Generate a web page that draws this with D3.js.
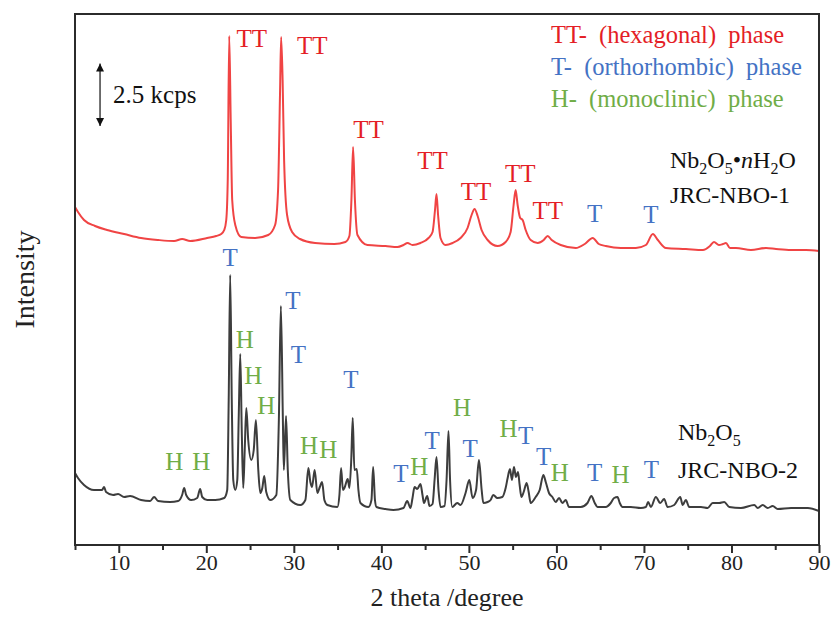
<!DOCTYPE html>
<html>
<head>
<meta charset="utf-8">
<script src="https://cdn.jsdelivr.net/npm/d3@7"></script>
<style>
  html, body { margin: 0; padding: 0; background: #fff; }
  svg text { font-family: "Liberation Serif", "Times New Roman", serif; }
</style>
</head>
<body>
<svg id="chart" width="834" height="630"></svg>
<script>
// ---------- DATA ----------
// Nb2O5·nH2O (JRC-NBO-1), offset trace: [2theta (deg), intensity (kcps, as plotted)]
const redTrace = [
  [5.00,13.52],[5.34,13.32],[6.03,13.00],[7.29,12.76],[8.66,12.60],[10.61,12.44],[12.55,12.28],
  [14.50,12.20],[16.33,12.16],[17.24,12.24],[18.16,12.16],[20.10,12.28],[21.13,12.36],[21.70,12.44],
  [22.05,12.60],[22.28,13.00],[22.45,14.60],[22.62,20.36],[22.79,17.00],[22.96,13.80],[23.31,12.80],
  [23.99,12.32],[25.59,12.28],[27.08,12.40],[27.86,12.80],[28.20,14.20],[28.43,18.20],[28.55,20.32],
  [28.72,18.60],[28.89,15.40],[29.23,13.20],[29.80,12.52],[30.71,12.24],[32.43,12.08],[34.63,12.04],
  [35.89,12.12],[36.35,12.36],[36.58,13.80],[36.77,15.92],[36.98,13.80],[37.27,12.40],[38.41,12.00],
  [40.47,11.96],[41.84,11.92],[42.53,12.00],[42.99,12.08],[43.56,12.00],[44.47,12.08],[45.39,12.28],
  [45.85,12.52],[46.13,13.40],[46.30,14.04],[46.48,13.20],[46.76,12.28],[47.33,12.00],[48.14,12.08],
  [49.05,12.28],[49.85,12.68],[50.31,13.20],[50.65,13.44],[51.00,13.16],[51.45,12.60],[52.14,12.20],
  [53.28,11.96],[54.20,12.12],[54.77,12.52],[55.11,13.60],[55.34,14.20],[55.57,13.60],[55.86,13.08],
  [56.14,13.00],[56.49,12.60],[57.06,12.20],[57.86,12.08],[58.55,12.20],[59.00,12.36],[59.46,12.20],
  [60.49,12.00],[62.21,11.88],[63.24,12.04],[64.15,12.28],[64.84,12.04],[65.64,11.96],[67.36,11.88],
  [69.07,11.88],[70.22,12.00],[71.02,12.44],[71.59,12.20],[72.51,11.88],[74.80,11.84],[76.74,11.80],
  [77.54,11.96],[78.00,12.12],[78.57,12.00],[79.03,12.04],[79.37,12.08],[79.83,11.88],[80.51,11.88],
  [82.23,11.80],[83.95,11.88],[85.09,11.84],[86.81,11.80],[88.53,11.80],[90.00,11.76]
];
// Nb2O5 (JRC-NBO-2)
const blackTrace = [
  [5.00,2.88],[5.34,2.68],[6.03,2.40],[7.17,2.20],[8.09,2.20],[8.32,2.32],[8.55,2.12],[9.35,2.00],
  [9.92,2.04],[10.61,1.92],[11.29,1.96],[12.55,1.80],[13.58,1.76],[14.04,1.92],[14.50,1.76],[15.87,1.72],
  [16.78,1.76],[17.24,2.00],[17.47,2.28],[17.70,2.00],[18.27,1.80],[18.96,1.88],[19.30,2.24],[19.53,1.92],
  [20.10,1.80],[21.02,1.80],[22.05,1.88],[22.39,2.20],[22.56,5.80],[22.73,10.80],[22.91,5.80],[23.08,2.60],
  [23.31,2.20],[23.54,2.60],[23.71,5.20],[23.88,7.64],[24.05,4.60],[24.22,2.28],[24.39,3.80],[24.57,5.48],
  [24.79,4.20],[25.14,3.40],[25.42,3.80],[25.67,5.00],[25.94,3.00],[26.17,2.08],[26.40,2.28],[26.62,2.76],
  [26.85,2.12],[27.31,1.80],[28.00,2.00],[28.29,5.00],[28.52,9.56],[28.75,5.00],[28.86,3.00],[29.11,5.16],
  [29.31,3.00],[29.60,1.80],[30.74,1.60],[31.32,1.80],[31.66,3.08],[31.89,2.52],[32.08,2.32],[32.38,3.00],
  [32.69,2.08],[32.97,2.32],[33.23,2.52],[33.49,1.80],[33.83,1.60],[34.98,1.52],[35.21,2.00],[35.40,3.08],
  [35.61,2.20],[35.78,2.28],[36.16,2.64],[36.35,2.28],[36.56,3.40],[36.73,5.08],[36.92,3.00],[37.19,3.04],
  [37.38,2.20],[37.61,1.68],[38.52,1.52],[38.87,1.80],[39.06,3.12],[39.27,1.80],[39.44,1.52],[40.47,1.44],
  [41.38,1.40],[42.53,1.48],[42.95,1.76],[43.33,1.48],[43.56,1.88],[43.79,2.32],[44.10,2.24],[44.47,2.44],
  [44.70,2.00],[44.87,1.68],[45.24,1.96],[45.50,1.56],[45.85,1.64],[46.08,2.60],[46.30,3.52],[46.53,2.20],
  [46.76,1.52],[47.22,1.56],[47.45,2.60],[47.67,4.56],[47.85,2.60],[48.10,1.52],[48.67,1.68],[49.05,1.60],
  [49.62,2.08],[50.05,2.60],[50.42,1.88],[50.82,2.20],[51.15,3.40],[51.46,2.20],[51.65,1.68],[52.14,1.72],
  [52.48,1.80],[52.79,2.00],[53.25,1.88],[53.82,1.92],[54.20,2.28],[54.43,2.68],[54.69,3.04],[54.92,2.60],
  [55.15,3.12],[55.38,2.72],[55.61,2.92],[55.80,2.40],[56.00,1.92],[56.26,2.12],[56.60,2.48],[56.83,2.12],
  [57.06,1.68],[57.63,1.92],[58.09,2.20],[58.51,2.80],[58.78,2.52],[59.15,2.08],[59.54,1.92],[59.92,1.72],
  [60.30,1.88],[60.69,1.68],[61.06,1.80],[61.44,1.52],[62.21,1.52],[62.78,1.52],[63.55,1.68],[64.00,1.96],
  [64.38,1.68],[64.69,1.52],[65.64,1.52],[66.21,1.68],[66.59,1.88],[66.98,1.92],[67.24,1.68],[67.55,1.52],
  [68.50,1.52],[69.64,1.48],[70.22,1.52],[70.48,1.72],[70.79,1.52],[71.36,1.92],[71.86,1.68],[72.31,1.84],
  [72.70,1.52],[73.46,1.60],[74.15,1.92],[74.42,1.60],[74.79,1.80],[75.17,1.52],[76.51,1.52],[77.28,1.48],
  [77.85,1.68],[78.60,1.68],[79.17,1.72],[79.75,1.52],[81.09,1.48],[82.61,1.60],[83.00,1.48],[83.57,1.60],
  [84.14,1.48],[84.71,1.56],[85.28,1.44],[86.81,1.48],[88.72,1.48],[90.00,1.36]
];
// phase labels: [text, phase, 2theta, intensity anchor (kcps)]
const redPeakLabels = [
  ["TT","TT",25.19,19.92],["TT","TT",32.12,19.64],["TT","TT",38.52,16.28],["TT","TT",45.85,15.04],
  ["TT","TT",50.82,13.80],["TT","TT",55.86,14.52],["TT","TT",59.00,13.04],
  ["T","T",64.38,12.92],["T","T",70.79,12.88]
];
const blackPeakLabels = [
  ["H","H",16.33,3.00],["H","H",19.42,3.00],["T","T",22.73,11.16],["H","H",24.39,7.88],
  ["H","H",25.37,6.44],["H","H",26.85,5.24],["T","T",29.89,9.44],["T","T",30.51,7.28],
  ["H","H",31.74,3.64],["H","H",33.95,3.48],["T","T",36.52,6.28],["T","T",42.24,2.52],
  ["H","H",44.33,2.80],["T","T",45.79,3.84],["H","H",49.22,5.16],["T","T",50.14,3.52],
  ["H","H",54.54,4.32],["T","T",56.49,4.04],["T","T",58.55,3.20],["H","H",60.38,2.56],
  ["T","T",64.38,2.56],["H","H",67.32,2.48],["T","T",70.85,2.68]
];
const legendItems = [
  ["TT-  (hexagonal)  phase","TT"],
  ["T-  (orthorhombic)  phase","T"],
  ["H-  (monoclinic)  phase","H"]
];
const xTicks = [10,20,30,40,50,60,70,80,90];
const xMinorTicks = [5,15,25,35,45,55,65,75,85];
const xDomain = [5, 90];
const yDomain = [0, 21.24];
const scaleBar = { x: 7.86, from: 16.76, to: 19.26, label: "2.5 kcps" };
const xLabel = "2 theta /degree";
const yLabel = "Intensity";

// ---------- DRAW ----------
const phaseColor = { TT: "#e41e26", T: "#4472c4", H: "#70ad47" };
const svg = d3.select("#chart");
const m = { left: 75, right: 819, top: 14, bottom: 545 };

const x = d3.scaleLinear().domain(xDomain).range([m.left, m.right]);
const y = d3.scaleLinear().domain(yDomain).range([m.bottom, m.top]);

svg.append("rect").attr("width", 834).attr("height", 630).attr("fill", "#fff");

const line = d3.line().x(d => x(d[0])).y(d => y(d[1])).curve(d3.curveMonotoneX);

svg.append("path").datum(blackTrace).attr("d", line)
  .attr("fill", "none").attr("stroke", "#3d3d3d").attr("stroke-width", 2).attr("stroke-linejoin", "round");
svg.append("path").datum(redTrace).attr("d", line)
  .attr("fill", "none").attr("stroke", "#f04444").attr("stroke-width", 2).attr("stroke-linejoin", "round");

// frame
svg.append("rect")
  .attr("x", m.left).attr("y", m.top)
  .attr("width", m.right - m.left).attr("height", m.bottom - m.top)
  .attr("fill", "none").attr("stroke", "#2b2b2b").attr("stroke-width", 2);

// x axis
const xAxis = d3.axisBottom(x).tickValues(xTicks).tickSize(8).tickPadding(1).tickFormat(d3.format("d"));
const gx = svg.append("g").attr("transform", `translate(0,${m.bottom})`).call(xAxis);
gx.select(".domain").remove();
gx.selectAll(".tick line").attr("stroke", "#2b2b2b").attr("stroke-width", 2);
gx.selectAll(".tick text").attr("font-size", 22).attr("fill", "#222")
  .attr("font-family", "Liberation Serif, serif");
const xMinor = d3.axisBottom(x).tickValues(xMinorTicks).tickSize(5).tickFormat("");
const gxm = svg.append("g").attr("transform", `translate(0,${m.bottom})`).call(xMinor);
gxm.select(".domain").remove();
gxm.selectAll(".tick line").attr("stroke", "#2b2b2b").attr("stroke-width", 2);

svg.append("text").attr("x", (m.left + m.right) / 2).attr("y", 606)
  .attr("text-anchor", "middle").attr("font-size", 26).attr("fill", "#222").text(xLabel);
svg.append("text").attr("transform", `translate(34,${(m.top + m.bottom) / 2}) rotate(-90)`)
  .attr("text-anchor", "middle").attr("font-size", 28).attr("fill", "#222").text(yLabel);

// peak labels
function drawLabels(arr) {
  svg.append("g").selectAll("text").data(arr).join("text")
    .attr("x", d => x(d[2])).attr("y", d => y(d[3]))
    .attr("text-anchor", "middle").attr("font-size", 25)
    .attr("fill", d => phaseColor[d[1]]).text(d => d[0]);
}
drawLabels(redPeakLabels);
drawLabels(blackPeakLabels);

// legend
svg.append("g").selectAll("text").data(legendItems).join("text")
  .attr("x", 551).attr("y", (d, i) => 43 + i * 32)
  .attr("font-size", 24.5).attr("fill", d => phaseColor[d[1]])
  .style("white-space", "pre").text(d => d[0]);

// scale bar
const defs = svg.append("defs");
defs.append("marker").attr("id", "ah").attr("viewBox", "0 0 10 10").attr("refX", 10).attr("refY", 5)
  .attr("markerWidth", 8).attr("markerHeight", 11).attr("markerUnits", "userSpaceOnUse")
  .attr("orient", "auto-start-reverse")
  .append("path").attr("d", "M0,0 L10,5 L0,10 Z").attr("fill", "#111");
svg.append("line")
  .attr("x1", x(scaleBar.x)).attr("x2", x(scaleBar.x))
  .attr("y1", y(scaleBar.from)).attr("y2", y(scaleBar.to))
  .attr("stroke", "#111").attr("stroke-width", 1.2)
  .attr("marker-start", "url(#ah)").attr("marker-end", "url(#ah)");
svg.append("text").attr("x", x(scaleBar.x) + 13).attr("y", (y(scaleBar.from) + y(scaleBar.to)) / 2 + 8)
  .attr("font-size", 25).attr("fill", "#111").text(scaleBar.label);

// sample names
function formula(xp, yp, parts) {
  const t = svg.append("text").attr("x", xp).attr("y", yp).attr("font-size", 24).attr("fill", "#111");
  parts.forEach(p => {
    const ts = t.append("tspan").text(p.t);
    if (p.sub) ts.attr("font-size", 16).attr("dy", 6);
    if (p.back) ts.attr("dy", -6);
    if (p.it) ts.attr("font-style", "italic");
  });
  return t;
}
formula(670, 168, [
  {t:"Nb"},{t:"2",sub:1},{t:"O",back:1},{t:"5",sub:1},{t:"•",back:1},{t:"n",it:1},{t:"H"},{t:"2",sub:1},{t:"O",back:1}
]);
svg.append("text").attr("x", 670).attr("y", 203).attr("font-size", 24).attr("fill", "#111").text("JRC-NBO-1");
formula(678, 440, [{t:"Nb"},{t:"2",sub:1},{t:"O",back:1},{t:"5",sub:1}]);
svg.append("text").attr("x", 678).attr("y", 478).attr("font-size", 24).attr("fill", "#111").text("JRC-NBO-2");
</script>
</body>
</html>
